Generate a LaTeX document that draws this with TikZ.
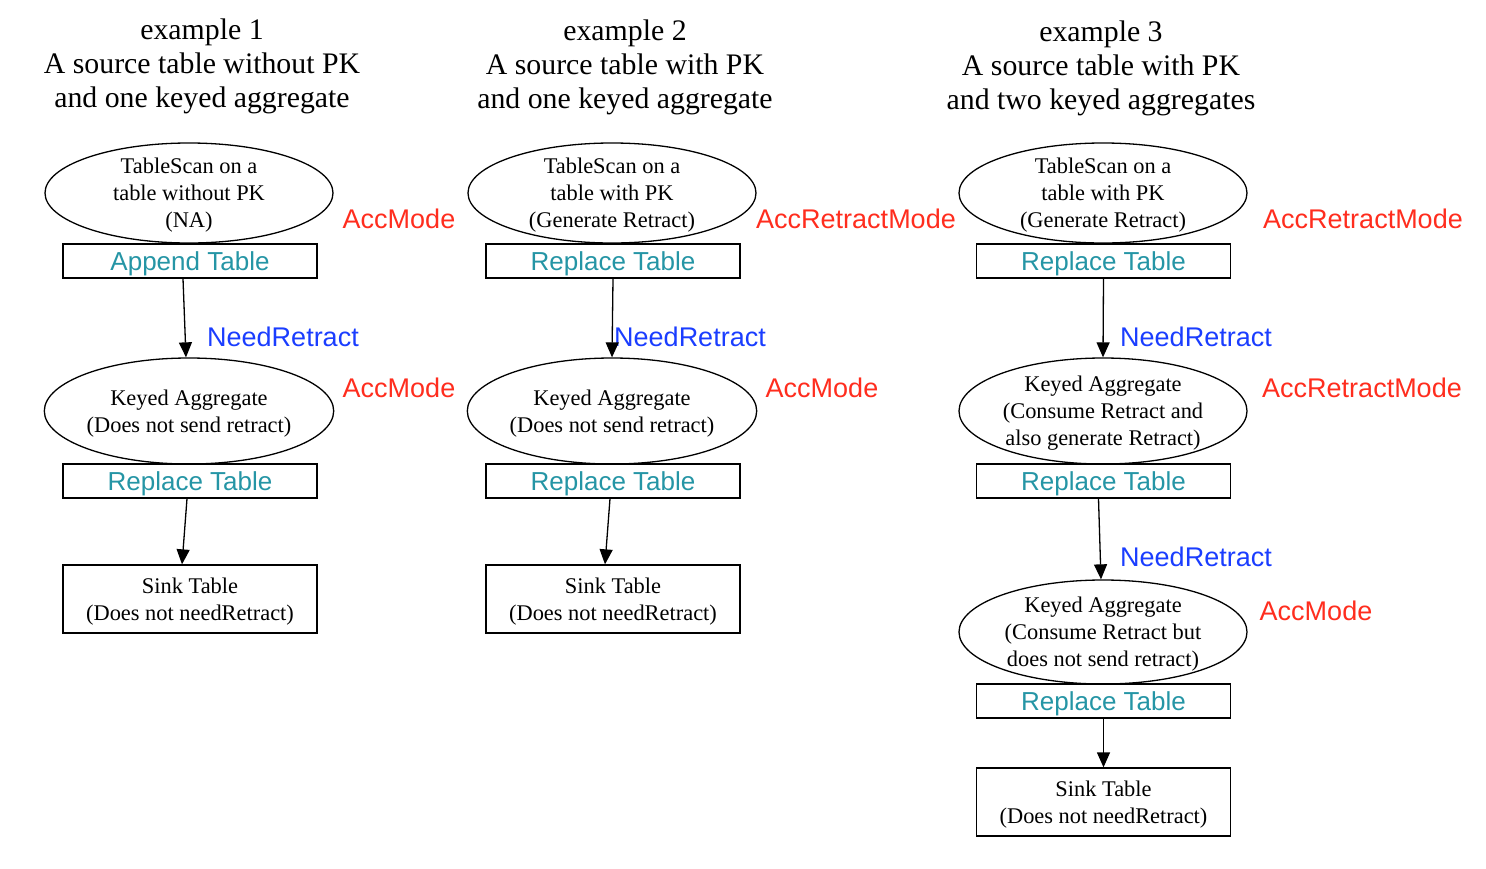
\documentclass[tikz,border=0pt]{standalone}
\usepackage{fontspec}
\setmainfont{Liberation Serif}
\newfontfamily\lsans{Liberation Sans}
\usetikzlibrary{shapes.geometric,arrows.meta}
\definecolor{accred}{HTML}{FF2D1E}
\definecolor{needblue}{HTML}{1A3DFF}
\definecolor{tblteal}{HTML}{2595A5}
\tikzset{
  op/.style={ellipse, draw, line width=1.3pt, minimum width=288pt, minimum height=100pt, inner sep=0pt, font=\fontsize{22.4}{27}\selectfont, align=center, text depth=0pt},
  tbl/.style={rectangle, draw, line width=1.3pt, minimum width=254pt, minimum height=34pt, inner sep=0pt, font=\lsans\fontsize{26}{30}\selectfont, text=tblteal, text depth=0pt},
  sinkbox/.style={rectangle, draw, line width=1.3pt, minimum width=254pt, minimum height=68pt, inner sep=0pt, font=\fontsize{22.4}{27}\selectfont, align=center, text depth=0pt},
  mode/.style={font=\lsans\fontsize{27}{30}\selectfont, text=accred, anchor=base, inner sep=0pt},
  need/.style={font=\lsans\fontsize{27}{30}\selectfont, text=needblue, anchor=base, inner sep=0pt},
  ttl/.style={font=\fontsize{29.8}{34}\selectfont, align=center, inner sep=0pt},
  arr/.style={-{Triangle[length=15pt,width=13pt]}, line width=1.3pt}
}
\begin{document}
\begin{tikzpicture}[x=1pt,y=-1pt]
\useasboundingbox (0,0) rectangle (1486,868);
% ---------- example 1
\node[ttl] (t1) at (202,66.5) {example 1\\A source table without PK\\and one keyed aggregate};
\node[op] (e11) at (189,193) {TableScan on a\\table without PK\\(NA)};
\node[tbl] (b11) at (190,261) {Append Table};
\node[mode] (m11) at (399,228.5) {AccMode};
\node[need] (n11) at (283,346.5) {NeedRetract};
\node[op, minimum height=106pt] (e12) at (189,411) {Keyed Aggregate\\(Does not send retract)};
\node[mode] (m12) at (399,397.5) {AccMode};
\node[tbl] (b12) at (190,481) {Replace Table};
\node[sinkbox] (s1) at (190,599) {Sink Table\\(Does not needRetract)};
\draw[arr] ([xshift=-7]b11.south) -- ([xshift=-3]e12.north);
\draw[arr] ([xshift=-3]b12.south) -- ([xshift=-8]s1.north);
% ---------- example 2
\node[ttl] (t2) at (625,67) {example 2\\A source table with PK\\and one keyed aggregate};
\node[op] (e21) at (612,193) {TableScan on a\\table with PK\\(Generate Retract)};
\node[tbl] (b21) at (613,261) {Replace Table};
\node[mode] (m21) at (856,228.5) {AccRetractMode};
\node[need] (n21) at (690,346.5) {NeedRetract};
\node[op, minimum height=106pt] (e22) at (612,411) {Keyed Aggregate\\(Does not send retract)};
\node[mode] (m22) at (822,397.5) {AccMode};
\node[tbl] (b22) at (613,481) {Replace Table};
\node[sinkbox] (s2) at (613,599) {Sink Table\\(Does not needRetract)};
\draw[arr] (b21.south) -- (e22.north);
\draw[arr] ([xshift=-3]b22.south) -- ([xshift=-8]s2.north);
% ---------- example 3
\node[ttl] (t3) at (1101,68.5) {example 3\\A source table with PK\\and two keyed aggregates};
\node[op] (e31) at (1103,193) {TableScan on a\\table with PK\\(Generate Retract)};
\node[tbl] (b31) at (1103.5,261) {Replace Table};
\node[mode] (m31) at (1363,228.5) {AccRetractMode};
\node[need] (n31) at (1196,346.5) {NeedRetract};
\node[op, minimum height=106pt] (e32) at (1103,411) {Keyed Aggregate\\(Consume Retract and\\also generate Retract)};
\node[mode] (m32) at (1362,397.5) {AccRetractMode};
\node[tbl] (b32) at (1103.5,481) {Replace Table};
\node[need] (n32) at (1196,566.5) {NeedRetract};
\node[op, minimum height=104pt] (e33) at (1103,632) {Keyed Aggregate\\(Consume Retract but\\does not send retract)};
\node[mode] (m33) at (1316,620.5) {AccMode};
\node[tbl] (b33) at (1103.5,701) {Replace Table};
\node[sinkbox] (s3) at (1103.5,802) {Sink Table\\(Does not needRetract)};
\draw[arr] (b31.south) -- (e32.north);
\draw[arr] ([xshift=-5]b32.south) -- ([xshift=-2]e33.north);
\draw[arr] (b33.south) -- (s3.north);
\end{tikzpicture}
\end{document}
